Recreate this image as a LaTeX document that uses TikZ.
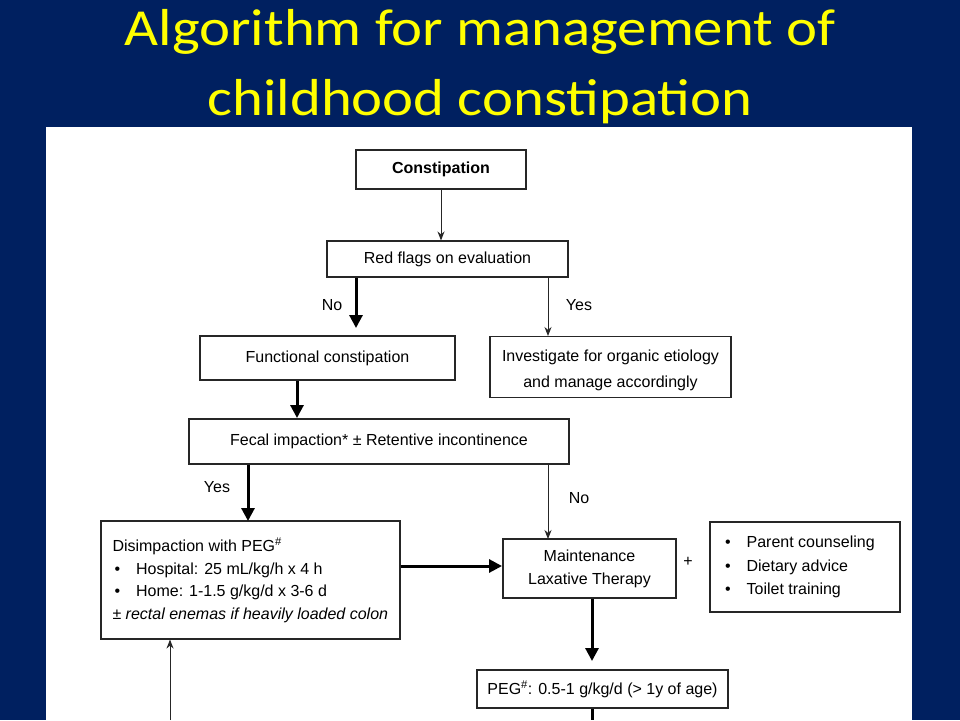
\documentclass[tikz,border=0pt]{standalone}
\usepackage{fontspec}
\setmainfont{Liberation Sans}
\newfontfamily\titlefont{Carlito}[FakeStretch=1.13]
\usetikzlibrary{arrows.meta}
\definecolor{navy}{HTML}{002060}
\definecolor{ttl}{HTML}{FFFF00}
\begin{document}
\begin{tikzpicture}[x=1pt,y=-1pt,
  box/.style={draw=black!85,line width=1.1pt,fill=white,inner sep=0pt,font=\fontsize{16}{23}\selectfont,align=center},
  thin/.style={draw=black!85,line width=1pt,-{Stealth[length=9pt,width=7pt]}},
  thick/.style={draw=black,line width=3pt,-{Stealth[length=13pt,width=13pt,inset=0pt]}},
  lbl/.style={font=\fontsize{16}{19}\selectfont,inner sep=0pt},
  ttlstyle/.style={text=ttl,font=\titlefont\fontsize{52}{60}\selectfont,anchor=base,inner sep=0pt}]
\fill[navy] (0,0) rectangle (960,720);
\useasboundingbox (0,0) rectangle (960,720);
\node[ttlstyle] (title1) at (480,45) {Algorithm for management of};
\node[ttlstyle] (title2) at (480,115) {childhood constipation};
\fill[white] (46,127) rectangle (912,720);
% boxes
\node[box,minimum width=170,minimum height=39,font=\bfseries\fontsize{16}{19}\selectfont] (c) at (441,169.5) {Constipation};
\node[box,minimum width=241,minimum height=36] (rf) at (447.5,259) {Red flags on evaluation};
\node[box,minimum width=255,minimum height=44] (fc) at (327.5,358) {Functional constipation};
\node[box,minimum width=241,minimum height=61,font=\fontsize{16}{26}\selectfont] (inv) at (610.5,367) {\rule{0pt}{18pt}Investigate for organic etiology\\and manage accordingly};
\node[box,minimum width=380,minimum height=45] (fi) at (379,441.5) {Fecal impaction* \textpm{} Retentive incontinence};
\node[box,minimum width=299,minimum height=118,align=flush left,text width=276,font=\fontsize{16}{22.5}\selectfont] (dis) at (250.5,580) {Disimpaction with PEG\textsuperscript{\#}\\
\hspace*{2pt}\textbullet\hspace{16pt}Hospital: 25 mL/kg/h x 4 h\\
\hspace*{2pt}\textbullet\hspace{16pt}Home: 1-1.5 g/kg/d x 3-6 d\\
\textpm{} \textit{rectal enemas if heavily loaded colon}};
\node[box,minimum width=173,minimum height=59] (mt) at (589.5,568.5) {Maintenance\\Laxative Therapy};
\node[box,minimum width=190,minimum height=90,align=flush left,text width=160,font=\fontsize{16}{23.5}\selectfont] (pc) at (805,567) {\textbullet\hspace{16pt}Parent counseling\\\textbullet\hspace{16pt}Dietary advice\\\textbullet\hspace{16pt}Toilet training};
\node[lbl] (plus) at (688,562) {+};
\node[box,minimum width=251,minimum height=38] (peg) at (602.5,689) {PEG\textsuperscript{\#}: 0.5-1 g/kg/d (> 1y of age)};
% labels
\node[lbl] (no1) at (332,305) {No};
\node[lbl] (yes1) at (579,305) {Yes};
\node[lbl] (yes2) at (217,487) {Yes};
\node[lbl] (no2) at (579,498) {No};
% helper coordinates
\coordinate (bot1) at (592,720);
\coordinate (bot2) at (170,720);
% connectors
\draw[thin] (c.south) -- (c.south |- rf.north);
\draw[thick] (rf.south -| 356,0) -- (356,328);
\draw[thin] (rf.south -| 548,0) -- (548,336);
\draw[thick] (fc.south -| 297,0) -- (297,418);
\draw[thick] (fi.south -| 248,0) -- (248,521);
\draw[thin] (fi.south -| 548,0) -- (548,539);
\draw[thick] (dis.east |- 0,566) -- (502,566);
\draw[thick] (mt.south -| 592,0) -- (592,661);
\draw[line width=3pt] (peg.south -| bot1) -- (bot1);
\draw[thin] (bot2) -- (bot2 |- dis.south);
\end{tikzpicture}
\end{document}
